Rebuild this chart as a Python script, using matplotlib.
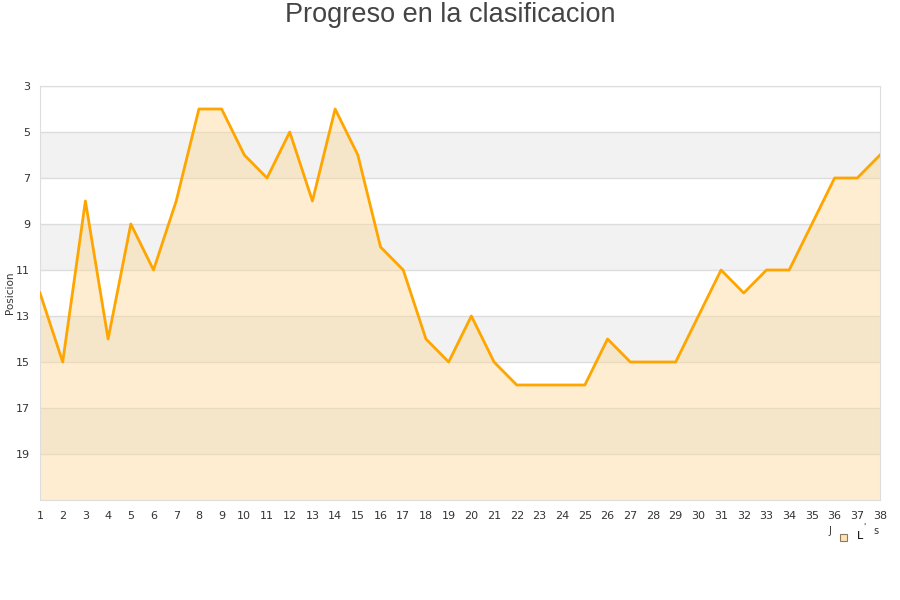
import matplotlib.pyplot as plt
from matplotlib.patches import Rectangle

# Jornadas y posicion
jornadas = list(range(1, 39))
posicion = [12, 15, 8, 14, 9, 11, 8, 4, 4, 6, 7, 5, 8, 4, 6, 10, 11, 14, 15, 13,
            15, 16, 16, 16, 16, 14, 15, 15, 15, 13, 11, 12, 11, 11, 9, 7, 7, 6]
y_ticks = list(range(3, 20, 2))

fig = plt.figure(figsize=(9, 6), dpi=100)
ax = fig.add_axes([40 / 900, 1 - 500 / 600, 840 / 900, 414 / 600])

# alternating bands
for lo in [5, 9, 13, 17]:
    ax.axhspan(lo, lo + 2, color='#f2f2f2', zorder=0, lw=0)
for t in y_ticks:
    ax.axhline(t, color='#dddddd', lw=1, zorder=1)

ax.fill_between(jornadas, posicion, 21, color='#fdd999', alpha=0.45, lw=0, zorder=2)
ax.plot(jornadas, posicion, color='#ffa500', lw=2, zorder=3)

ax.set_xlim(1, 38)
ax.set_ylim(21, 3)
ax.set_xticks(jornadas)
ax.set_yticks(y_ticks)
ax.tick_params(length=0, labelsize=8, colors='#333333', pad=8)
ax.tick_params(axis='y', pad=7)
for s in ax.spines.values():
    s.set_color('#dddddd')
ax.set_ylabel('Posicion', fontsize=7.5, color='#333333')
ax.yaxis.set_label_coords(-25 / 840, 0.5)

fig.text(0.5, 1 - 15 / 600, 'Progreso en la clasificacion', ha='center', va='center',
         fontsize=19.5, color='#444444', family='Liberation Sans')

# legend (garbled in the reference)
fig.text(830 / 900, 1 - 531 / 600, 'J', fontsize=7, color='#333333', va='center', ha='center')
fig.patches.append(Rectangle((840 / 900, 1 - 541 / 600), 7 / 900, 7 / 600,
                             transform=fig.transFigure, facecolor='#fde3b8',
                             edgecolor='#8a7a60', lw=0.8))
fig.text(860 / 900, 1 - 536 / 600, 'L', fontsize=8, color='#000000', va='center', ha='center')
fig.text(864 / 900, 1 - 527 / 600, "'", fontsize=6, color='#333333', va='center', ha='center')
fig.text(876 / 900, 1 - 531 / 600, 's', fontsize=7, color='#333333', va='center', ha='center')

plt.savefig('out.png', dpi=100)
